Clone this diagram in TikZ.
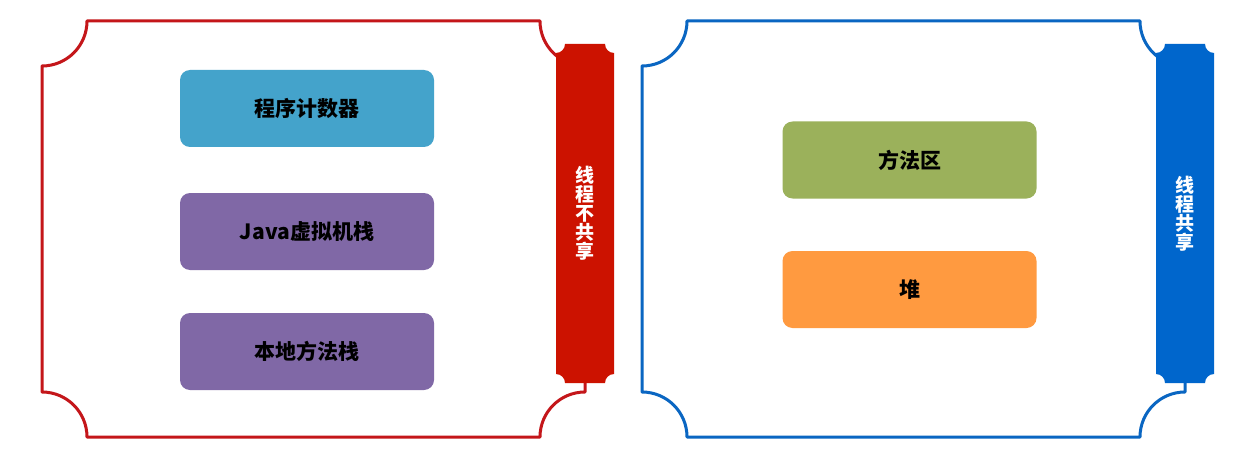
\documentclass[tikz,border=0pt]{standalone}
\usepackage{fontspec}
\newfontfamily\cjk{Noto Sans CJK SC}
\definecolor{pcblue}{HTML}{44A3CB}
\definecolor{vmpurple}{HTML}{8068A6}
\definecolor{mgreen}{HTML}{9BB15B}
\definecolor{horange}{HTML}{FF9A40}
\definecolor{fred}{HTML}{C4161A}
\definecolor{bred}{HTML}{CC1200}
\definecolor{fblue}{HTML}{0A66C2}
\definecolor{bblue}{HTML}{0066CC}
\tikzset{
  membox/.style={draw=none, rounded corners=10pt, minimum width=254pt, minimum height=77pt,
    font=\cjk\bfseries\fontsize{21}{24}\selectfont, text=black, inner sep=0pt},
  frameline/.style={line width=3pt, line join=round},
  bartext/.style={font=\cjk\bfseries\fontsize{19}{19}\selectfont, text=white, align=center, inner sep=0pt}
}
\begin{document}
\begin{tikzpicture}[x=1pt,y=1pt]
\useasboundingbox[fill=white] (0,0) rectangle (1242,448);
% left frame
\draw[frameline, draw=fred] (87,427) -- (540,427) arc (180:270:45) -- (585,56) arc (90:180:45)
  -- (87,11) arc (0:90:45) -- (42,382) arc (270:360:45) -- cycle;
% right frame
\draw[frameline, draw=fblue] (687,427) -- (1140,427) arc (180:270:45) -- (1185,56) arc (90:180:45)
  -- (687,11) arc (0:90:45) -- (642,382) arc (270:360:45) -- cycle;
% left bar
\fill[bred] (565,404) -- (605,404) arc (180:270:9) -- (614,74) arc (90:180:9)
  -- (565,65) arc (0:90:9) -- (556,395) arc (270:360:9) -- cycle;
\node[bartext] (lbar) at (585,234.5) {线\\程\\不\\共\\享};
% right bar
\fill[bblue] (1165,404) -- (1205,404) arc (180:270:9) -- (1214,74) arc (90:180:9)
  -- (1165,65) arc (0:90:9) -- (1156,395) arc (270:360:9) -- cycle;
\node[bartext] (rbar) at (1185,234.5) {线\\程\\共\\享};
% boxes
\node[membox, fill=pcblue] (pc) at (307,339.5) {程序计数器};
\node[membox, fill=vmpurple] (jvm) at (307,216.5) {Java虚拟机栈};
\node[membox, fill=vmpurple] (nat) at (307,96.5) {本地方法栈};
\node[membox, fill=mgreen] (meth) at (909.5,288) {方法区};
\node[membox, fill=horange] (heap) at (909.5,158.5) {堆};
\end{tikzpicture}
\end{document}
